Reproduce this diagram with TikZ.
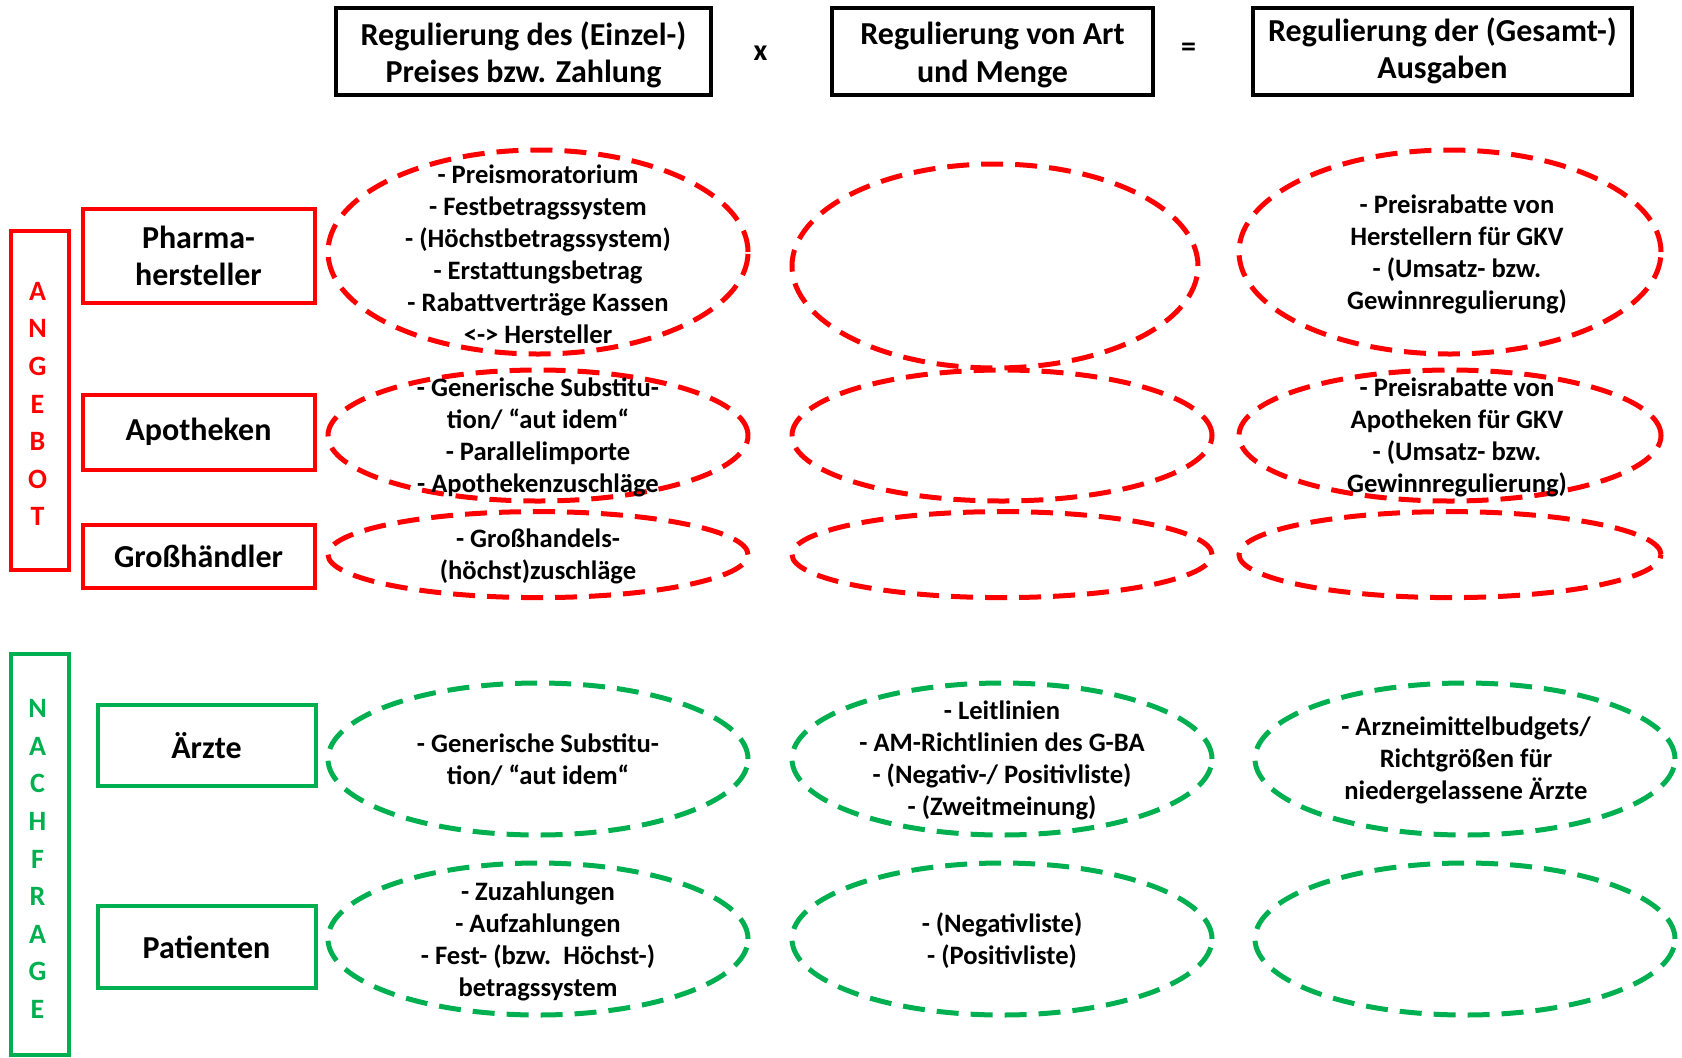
\documentclass[tikz,border=0pt]{standalone}
\usepackage{fontspec}
\setmainfont{Carlito}
\usetikzlibrary{shapes.geometric}
\definecolor{angebot}{RGB}{255,0,0}
\definecolor{nachfrage}{RGB}{0,176,80}

\begin{document}
\begin{tikzpicture}[x=0.5pt,y=-0.5pt,
  kopf/.style={draw=black,line width=2pt,minimum width=#1,minimum height=43.5pt,inner sep=0pt},
  kopftext/.style={align=center,font=\fontsize{16}{18.8}\selectfont\bfseries},
  akteur/.style={draw=#1,line width=2pt,inner sep=0pt,align=center,
    font=\fontsize{16}{18.8}\selectfont\bfseries},
  seite/.style={draw=#1,line width=2pt,minimum width=29pt,inner sep=0pt},
  buchst/.style={text=#1,align=center,font=\fontsize{14}{18.8}\selectfont\bfseries},
  oval/.style={ellipse,draw=#1,line width=2.5pt,dash pattern=on 11pt off 6pt,inner sep=0pt},
  inhalt/.style={align=center,font=\fontsize{13.3}{16}\selectfont\bfseries}]
\useasboundingbox (0,0) rectangle (1682,1057);

% Kopfzeile
\node[kopf=187.5pt] (k1) at (523.5,51) {};
\node[kopf=160.5pt] (k2) at (992.5,51) {};
\node[kopf=189.5pt] (k3) at (1442.5,51) {};
\node[kopftext] (k1txt) at (523.5,55) {Regulierung des (Einzel-)\\Preises bzw. Zahlung};
\node[kopftext] (k2txt) at (992.5,55) {Regulierung von Art\\und Menge};
\node[kopftext] (k3txt) at (1442.5,51) {Regulierung der (Gesamt-)\\Ausgaben};
\node[font=\fontsize{15}{18}\selectfont\bfseries] (mal) at (760.5,53) {x};
\node[font=\fontsize{15}{18}\selectfont\bfseries] (gleich) at (1188.5,50) {=};

% Angebot
\node[seite=angebot,minimum height=169.5pt] (ang) at (39.7,400) {};
\node[buchst=angebot] (angtxt) at (37.5,404) {A\\N\\G\\E\\B\\O\\T};
\node[akteur=angebot,minimum width=116pt,minimum height=47pt] (pharma) at (198.5,256) {Pharma-\\hersteller};
\node[akteur=angebot,minimum width=116pt,minimum height=37.5pt] (apo) at (198.5,432) {Apotheken};
\node[akteur=angebot,minimum width=116pt,minimum height=31.5pt] (gross) at (198.5,556) {Großhändler};

\node[oval=angebot,minimum width=210pt,minimum height=102pt] (e11) at (538,252) {};
\node[oval=angebot,minimum width=203pt,minimum height=102pt] (e12) at (995,266) {};
\node[oval=angebot,minimum width=211pt,minimum height=102pt] (e13) at (1450,252) {};
\node[oval=angebot,minimum width=210pt,minimum height=65.5pt] (e21) at (538,435.5) {};
\node[oval=angebot,minimum width=210pt,minimum height=65.5pt] (e22) at (1002,435.5) {};
\node[oval=angebot,minimum width=211pt,minimum height=65.5pt] (e23) at (1450,435.5) {};
\node[oval=angebot,minimum width=210pt,minimum height=43pt] (e31) at (538,554.6) {};
\node[oval=angebot,minimum width=210pt,minimum height=43pt] (e32) at (1002,554.6) {};
\node[oval=angebot,minimum width=211pt,minimum height=43pt] (e33) at (1450,554.6) {};

\node[inhalt] (t11) at (538,254) {- Preismoratorium\\- Festbetragssystem\\- (Höchstbetragssystem)\\- Erstattungsbetrag\\- Rabattverträge Kassen\\<-> Hersteller};
\node[inhalt] (t13) at (1457,254) {- Preisrabatte von\\Herstellern für GKV\\- (Umsatz- bzw.\\Gewinnregulierung)};
\node[inhalt] (t21) at (538,437) {- Generische Substitu-\\tion/ “aut idem“\\- Parallelimporte\\- Apothekenzuschläge};
\node[inhalt] (t23) at (1457,437) {- Preisrabatte von\\Apotheken für GKV\\- (Umsatz- bzw.\\Gewinnregulierung)};
\node[inhalt] (t31) at (538,556) {- Großhandels-\\(höchst)zuschläge};

% Nachfrage
\node[seite=nachfrage,minimum height=200.5pt] (nach) at (39.7,854.5) {};
\node[buchst=nachfrage] (nachtxt) at (37.5,859) {N\\A\\C\\H\\F\\R\\A\\G\\E};
\node[akteur=nachfrage,minimum width=109pt,minimum height=40.75pt] (aerzte) at (206.5,745.5) {Ärzte};
\node[akteur=nachfrage,minimum width=109pt,minimum height=40.75pt] (pat) at (206.5,947) {Patienten};

\node[oval=nachfrage,minimum width=210pt,minimum height=76pt] (e41) at (538,759) {};
\node[oval=nachfrage,minimum width=210pt,minimum height=76pt] (e42) at (1002,759) {};
\node[oval=nachfrage,minimum width=210pt,minimum height=76pt] (e43) at (1465,759) {};
\node[oval=nachfrage,minimum width=210pt,minimum height=76pt] (e51) at (538,939) {};
\node[oval=nachfrage,minimum width=210pt,minimum height=76pt] (e52) at (1002,939) {};
\node[oval=nachfrage,minimum width=210pt,minimum height=76pt] (e53) at (1465,939) {};

\node[inhalt] (t41) at (538,760) {- Generische Substitu-\\tion/ “aut idem“};
\node[inhalt] (t42) at (1002,760) {- Leitlinien\\- AM-Richtlinien des G-BA\\- (Negativ-/ Positivliste)\\- (Zweitmeinung)};
\node[inhalt] (t43) at (1466,760) {- Arzneimittelbudgets/\\Richtgrößen für\\niedergelassene Ärzte};
\node[inhalt] (t51) at (538,941) {- Zuzahlungen\\- Aufzahlungen\\- Fest- (bzw.\ \ Höchst-)\\betragssystem};
\node[inhalt] (t52) at (1002,941) {- (Negativliste)\\- (Positivliste)};
\end{tikzpicture}
\end{document}
